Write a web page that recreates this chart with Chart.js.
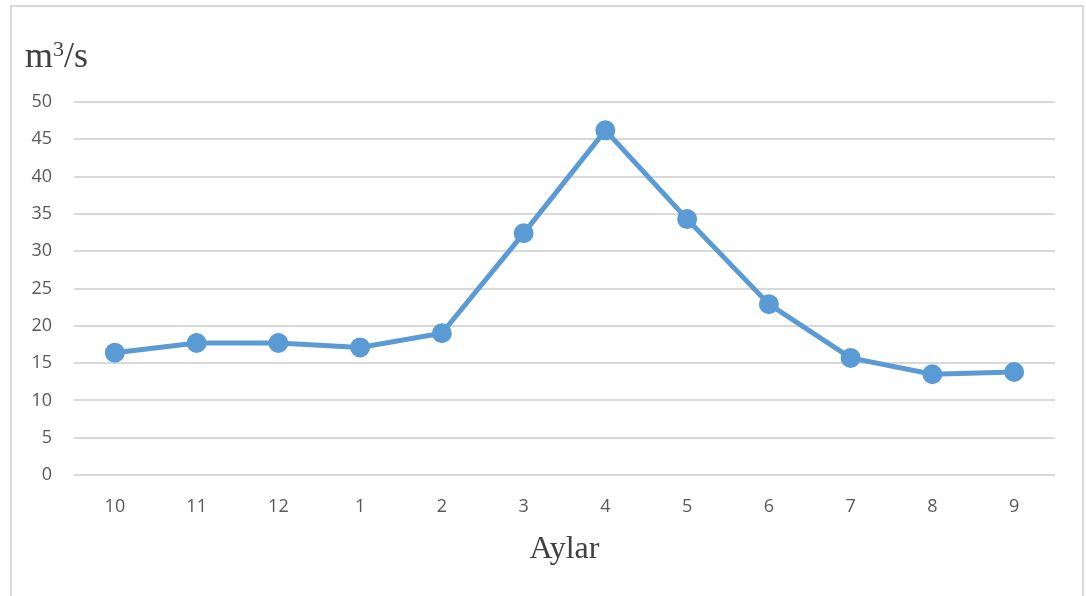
<!DOCTYPE html>
<html>
<head>
<meta charset="utf-8">
<script src="https://cdn.jsdelivr.net/npm/chart.js@4.4.1/dist/chart.umd.min.js"></script>
<style>
  html, body { margin: 0; padding: 0; background: #ffffff; }
  #wrap { position: relative; width: 1086px; height: 596px; }
</style>
</head>
<body>
<div id="wrap"><canvas id="c" width="1086" height="596"></canvas></div>
<script>
// Monthly mean discharge over the water year (October to September)
const months = ['10', '11', '12', '1', '2', '3', '4', '5', '6', '7', '8', '9'];
const discharge = [16.4, 17.7, 17.7, 17.1, 19.0, 32.4, 46.2, 34.3, 22.9, 15.7, 13.5, 13.8];
const yTicks = [0, 5, 10, 15, 20, 25, 30, 35, 40, 45, 50];

const lineColor = '#5b9bd5';
const gridColor = '#d9d9d9';
const tickColor = '#595959';
const tickFont = { family: "'Open Sans', 'Noto Sans', sans-serif", size: 18 };

// Frame, unit label and axis title
const decorations = {
  id: 'decorations',
  beforeDraw(chart) {
    const ctx = chart.ctx;
    ctx.save();
    ctx.strokeStyle = '#d9d9d9';
    ctx.lineWidth = 2;
    ctx.strokeRect(11, 6, 1072, 600);
    ctx.restore();
  },
  afterDraw(chart) {
    const ctx = chart.ctx;
    ctx.save();
    ctx.fillStyle = '#404040';
    ctx.textBaseline = 'alphabetic';
    ctx.font = "36px 'Liberation Serif', 'DejaVu Serif', serif";
    ctx.fillText('m', 25, 67);
    const mW = ctx.measureText('m').width;
    ctx.font = "22px 'Liberation Serif', 'DejaVu Serif', serif";
    ctx.fillText('3', 25 + mW, 56);
    const sW = ctx.measureText('3').width;
    ctx.font = "36px 'Liberation Serif', 'DejaVu Serif', serif";
    ctx.fillText('/s', 25 + mW + sW, 67);

    const xs = chart.scales.x;
    ctx.font = "32px 'Liberation Serif', 'DejaVu Serif', serif";
    ctx.textAlign = 'center';
    ctx.fillText('Aylar', (xs.left + xs.right) / 2, 558);
    ctx.restore();
  }
};

new Chart(document.getElementById('c'), {
  type: 'line',
  data: {
    labels: months,
    datasets: [{
      data: discharge,
      borderColor: lineColor,
      backgroundColor: lineColor,
      borderWidth: 5,
      pointRadius: 7.5,
      pointHoverRadius: 7.5,
      pointBackgroundColor: lineColor,
      pointBorderColor: lineColor,
      tension: 0,
      fill: false
    }]
  },
  options: {
    responsive: false,
    animation: false,
    layout: { padding: { left: 0, top: 102, right: 31, bottom: 0 } },
    plugins: {
      legend: { display: false },
      tooltip: { enabled: false },
      title: { display: false }
    },
    scales: {
      x: {
        offset: true,
        grid: { display: false, drawTicks: false },
        border: { display: false },
        ticks: { color: tickColor, font: tickFont, padding: 21, maxRotation: 0 },
        afterFit(scale) { scale.height = 121; }
      },
      y: {
        min: 0,
        max: 50,
        afterBuildTicks(scale) { scale.ticks = yTicks.map(v => ({ value: v })); },
        grid: { color: gridColor, lineWidth: 2, drawTicks: false },
        border: { display: false },
        ticks: { color: tickColor, font: tickFont, padding: 22 },
        afterFit(scale) { scale.width = 74; }
      }
    }
  },
  plugins: [decorations]
});
</script>
</body>
</html>
